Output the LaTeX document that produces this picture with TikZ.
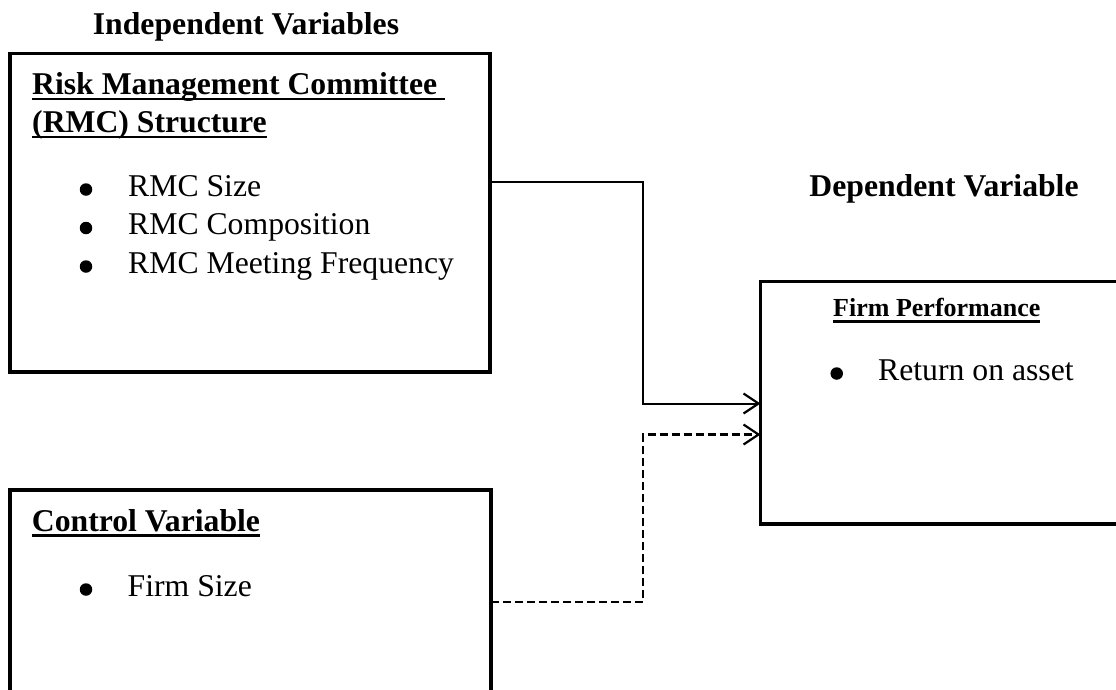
\documentclass[tikz,border=0pt]{standalone}
\usepackage{fontspec}
\setmainfont{Liberation Serif}
\usetikzlibrary{arrows.meta,positioning}
\newcommand{\undr}[1]{\setbox0=\hbox{#1}\rlap{\rule[-5.8pt]{\wd0}{2.8pt}}\box0}
\tikzset
{
    varbox/.style    = {rectangle, draw=black, line width=3.6pt, anchor=north west, outer sep=0pt, inner sep=0pt},
    heading/.style   = {anchor=base, inner sep=0pt, font=\bfseries\fontsize{31.7}{38}\selectfont},
    boxtitle/.style  = {anchor=base west, inner sep=0pt, font=\bfseries\fontsize{31.7}{38}\selectfont},
    entry/.style     = {anchor=base west, inner sep=0pt, font=\fontsize{31.7}{38}\selectfont},
    bulletdot/.style = {circle, fill=black, inner sep=0pt, minimum size=12.5pt},
    link/.style      = {line width=2pt, -{Straight Barb[length=15pt,width=20pt,line width=2.2pt]}}
}
\begin{document}
\begin{tikzpicture}[x=1pt, y=-1pt]
\useasboundingbox (0,0) rectangle (1116,689);
\clip (0,0) rectangle (1116,689);
% independent side
\node [heading] (indep) at (246,34) {Independent Variables};
\node [varbox, minimum width=480pt, minimum height=318.5pt] (rmc) at (10,53.5) {};
\node [boxtitle] (rmchead) at (32,94.5) {\undr{Risk Management Committee\ }};
\node [boxtitle] (rmcsub) at (32,132.5) {\undr{(RMC) Structure}};
\node [bulletdot] (dotsize) at (86,189.5) {};
\node [entry] (size) at (128,196) {RMC Size};
\node [bulletdot] (dotcomp) at (86,228) {};
\node [entry] (comp) at (128,234.5) {RMC Composition};
\node [bulletdot] (dotfreq) at (86,266.5) {};
\node [entry] (freq) at (128,273) {RMC Meeting Frequency};
% control side
\node [varbox, minimum width=481pt, minimum height=250pt] (ctrl) at (10,490) {};
\node [boxtitle] (ctrlhead) at (31.7,531) {\undr{Control Variable}};
\node [bulletdot] (dotfirm) at (86,589.5) {};
\node [entry] (firmsize) at (127.5,596) {Firm Size};
% dependent side
\node [heading] (dep) at (944,196.7) {Dependent Variable};
\node [varbox, minimum width=400pt, minimum height=242.5pt] (perf) at (760.5,281.5) {};
\node [anchor=base west, inner sep=0pt, font=\bfseries\fontsize{26}{31}\selectfont] (perfhead) at (833,316.7) {\undr{Firm Performance}};
\node [bulletdot] (dotroa) at (836.7,373.5) {};
\node [entry] (roa) at (878,380) {Return on asset};
% connectors
\coordinate (bendS) at (643,182);
\coordinate (bendD) at (643,602);
\draw [link] (rmc.east |- bendS) -- (bendS) |- (perf.west |- 0,403.5);
\draw [link, line width=2.6pt, dash pattern=on 8pt off 4pt] (ctrl.east |- bendD) -- (bendD) |- (perf.west |- 0,434.5);
\end{tikzpicture}
\end{document}
